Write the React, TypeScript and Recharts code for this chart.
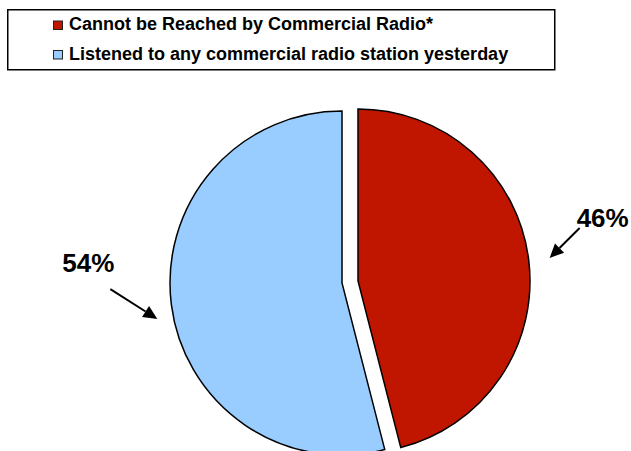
import React from 'react';
import { PieChart, Pie, Cell, Legend } from 'recharts';

const CATEGORIES = [
  'Cannot be Reached by Commercial Radio*',
  'Listened to any commercial radio station yesterday',
];
const VALUES = [46, 54];
const COLORS = ['#C01600', '#99CCFF'];

const data = CATEGORIES.map((name, i) => ({ name, value: VALUES[i] }));

const FONT = '"Liberation Sans", Arial, Helvetica, sans-serif';

// arrow/label placement relative to the outer point of each slice at its mid angle
const LABEL_GEOM = [
  { tip: [21, -1.5], tail: [30, -30], text: [-3, -1] },
  { tip: [-14, 14.5], tail: [-47, -30], text: [-48, -17] },
];

const makeLabel = (which: number) => (props: any) => {
  const { cx, cy, midAngle, outerRadius, index, value } = props;
  if (index !== which) return null;
  const RAD = Math.PI / 180;
  const ox = cx + outerRadius * Math.cos(-midAngle * RAD);
  const oy = cy + outerRadius * Math.sin(-midAngle * RAD);
  const g = LABEL_GEOM[which];
  const tx = ox + g.tip[0];
  const ty = oy + g.tip[1];
  const sx = tx + g.tail[0];
  const sy = ty + g.tail[1];
  const dx = tx - sx;
  const dy = ty - sy;
  const len = Math.sqrt(dx * dx + dy * dy);
  const ux = dx / len;
  const uy = dy / len;
  const hl = 14;
  const hw = 6.5;
  const bx = tx - ux * hl;
  const by = ty - uy * hl;
  const p1 = `${tx},${ty}`;
  const p2 = `${bx - uy * hw},${by + ux * hw}`;
  const p3 = `${bx + uy * hw},${by - ux * hw}`;
  return (
    <g>
      <line x1={sx} y1={sy} x2={bx} y2={by} stroke="#000" strokeWidth={2} />
      <polygon points={`${p1} ${p2} ${p3}`} fill="#000" />
      <text
        x={sx + g.text[0]}
        y={sy + g.text[1]}
        textAnchor="start"
        fontFamily={FONT}
        fontWeight="bold"
        fontSize={26}
        fill="#000"
      >
        {`${value}%`}
      </text>
    </g>
  );
};

const LegendBox = () => (
  <svg width={549} height={62} style={{ display: 'block' }}>
    <rect x={0.75} y={0.75} width={547} height={60} fill="#fff" stroke="#000" strokeWidth={1.5} />
    {CATEGORIES.map((name, i) => (
      <g key={name}>
        <rect
          x={46.5}
          y={12 + i * 29.5}
          width={9}
          height={8.5}
          fill={COLORS[i]}
          stroke="#222"
          strokeWidth={1}
        />
        <text
          x={62}
          y={21 + i * 30}
          fontFamily={FONT}
          fontWeight="bold"
          fontSize={18}
          fill="#000"
        >
          {name}
        </text>
      </g>
    ))}
  </svg>
);

export default function App() {
  return (
    <div style={{ position: 'absolute', left: 0, top: 0, width: 631, height: 451, background: '#fff' }}>
      <PieChart width={631} height={451} margin={{ top: 0, right: 0, bottom: 0, left: 0 }}>
        <Pie
          data={data}
          dataKey="value"
          nameKey="name"
          cx={342}
          cy={283}
          outerRadius={172}
          startAngle={90}
          endAngle={-270}
          isAnimationActive={false}
          labelLine={false}
          label={makeLabel(1)}
          legendType="none"
        >
          {data.map((d, i) => (
            <Cell
              key={d.name}
              fill={i === 1 ? COLORS[1] : 'none'}
              stroke={i === 1 ? '#000' : 'none'}
              strokeWidth={1.5}
            />
          ))}
        </Pie>
        <Pie
          data={data}
          dataKey="value"
          nameKey="name"
          cx={358}
          cy={281}
          outerRadius={172}
          startAngle={90}
          endAngle={-270}
          isAnimationActive={false}
          labelLine={false}
          label={makeLabel(0)}
        >
          {data.map((d, i) => (
            <Cell
              key={d.name}
              fill={i === 0 ? COLORS[0] : 'none'}
              stroke={i === 0 ? '#000' : 'none'}
              strokeWidth={1.5}
            />
          ))}
        </Pie>
        <Legend
          layout="horizontal"
          verticalAlign="middle"
          align="center"
          content={() => <LegendBox />}
          wrapperStyle={{ left: 7, top: 9, width: 549, height: 62 }}
        />
      </PieChart>
    </div>
  );
}
